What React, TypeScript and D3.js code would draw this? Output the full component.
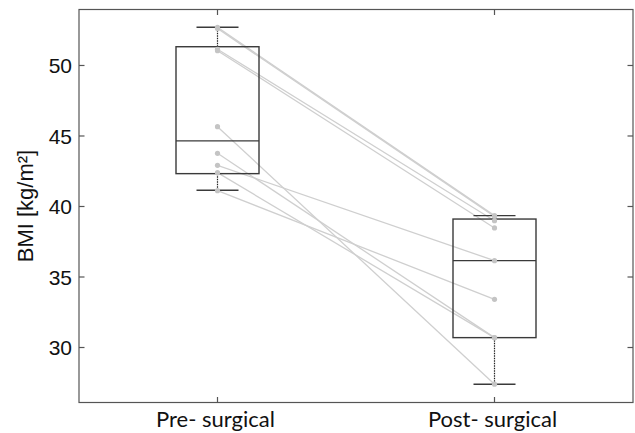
import React from "react";
import * as d3 from "d3";

const categories = ["Pre- surgical", "Post- surgical"];
const yTicks = [30, 35, 40, 45, 50];
// paired subjects: pre value -> post value
const preValues = [52.7, 52.62, 51.15, 51.05, 45.66, 43.77, 42.92, 42.4, 41.12];
const postValues = [39.35, 39.3, 38.99, 38.48, 27.4, 30.7, 36.16, 30.7, 33.42];
// box statistics per category: lower whisker, q1, median, q3, upper whisker
const whiskerLow = [41.15, 27.39];
const q1 = [42.33, 30.7];
const medians = [44.65, 36.16];
const q3 = [51.33, 39.11];
const whiskerHigh = [52.71, 39.35];

const W = 635;
const H = 433;
const left = 79, right = 633, top = 9.5, bottom = 402.5;

export default function App() {
  const x = d3.scaleLinear().domain([0.5, 2.5]).range([left, right]);
  const y = d3.scaleLinear().domain([26.1, 53.97]).range([bottom, top]);
  const boxW = 83;
  const capW = 42;
  const frame = "#555";
  const boxC = "#3a3a3a";
  const lineC = "#cfcfcf";
  const dotC = "#c4c4c4";

  return (
    <svg width={W} height={H} style={{ position: "absolute", left: 0, top: 0, background: "#fff" }}>
      {/* paired lines */}
      {preValues.map((p, i) => (
        <line key={"l" + i} x1={x(1)} y1={y(p)} x2={x(2)} y2={y(postValues[i])} stroke={lineC} strokeWidth={1.3} />
      ))}
      {/* boxes */}
      {categories.map((c, i) => {
        const cx = x(i + 1);
        return (
          <g key={c}>
            <line x1={cx} x2={cx} y1={y(q3[i])} y2={y(whiskerHigh[i])} stroke="#222" strokeWidth={1.2} strokeDasharray="1.5,1" />
            <line x1={cx} x2={cx} y1={y(q1[i])} y2={y(whiskerLow[i])} stroke="#222" strokeWidth={1.2} strokeDasharray="1.5,1" />
            <line x1={cx - capW / 2} x2={cx + capW / 2} y1={y(whiskerHigh[i])} y2={y(whiskerHigh[i])} stroke={boxC} strokeWidth={1.4} />
            <line x1={cx - capW / 2} x2={cx + capW / 2} y1={y(whiskerLow[i])} y2={y(whiskerLow[i])} stroke={boxC} strokeWidth={1.4} />
            <rect x={cx - boxW / 2} y={y(q3[i])} width={boxW} height={y(q1[i]) - y(q3[i])} fill="none" stroke={boxC} strokeWidth={1.4} />
            <line x1={cx - boxW / 2} x2={cx + boxW / 2} y1={y(medians[i])} y2={y(medians[i])} stroke={boxC} strokeWidth={1.2} />
          </g>
        );
      })}
      {/* points */}
      {preValues.map((p, i) => (
        <circle key={"a" + i} cx={x(1)} cy={y(p)} r={2.6} fill={dotC} />
      ))}
      {postValues.map((p, i) => (
        <circle key={"b" + i} cx={x(2)} cy={y(p)} r={2.6} fill={dotC} />
      ))}
      {/* frame */}
      <rect x={left} y={top} width={right - left} height={bottom - top} fill="none" stroke={frame} strokeWidth={1.2} />
      {yTicks.map((t) => (
        <g key={t}>
          <line x1={left} x2={left + 5.5} y1={y(t)} y2={y(t)} stroke={frame} strokeWidth={1.2} />
          <line x1={right} x2={right - 5.5} y1={y(t)} y2={y(t)} stroke={frame} strokeWidth={1.2} />
          <text x={left - 7} y={y(t)} dy="0.36em" textAnchor="end" fontFamily="Liberation Sans, Arial, sans-serif" fontSize={21} fill="#111">
            {t}
          </text>
        </g>
      ))}
      {categories.map((c, i) => (
        <g key={"t" + c}>
          <line x1={x(i + 1)} x2={x(i + 1)} y1={top} y2={top + 5.5} stroke={frame} strokeWidth={1.2} />
          <line x1={x(i + 1)} x2={x(i + 1)} y1={bottom} y2={bottom - 5.5} stroke={frame} strokeWidth={1.2} />
          <text x={x(i + 1) - 2} y={427} textAnchor="middle" fontFamily="Lato, Open Sans, sans-serif" fontSize={22} fill="#111">
            {c}
          </text>
        </g>
      ))}
      <text
        transform={`translate(33, ${(top + bottom) / 2}) rotate(-90)`}
        textAnchor="middle"
        fontFamily="Liberation Sans, Arial, sans-serif"
        fontSize={22}
        fill="#111"
      >
        BMI [kg/m²]
      </text>
    </svg>
  );
}
